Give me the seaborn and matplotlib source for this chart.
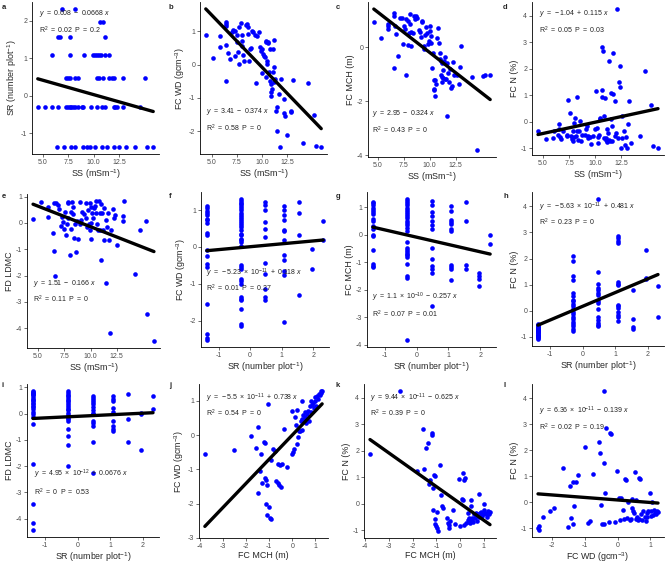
import numpy as np
import matplotlib
matplotlib.use('Agg')
import matplotlib.pyplot as plt
import seaborn as sns
from matplotlib.ticker import FormatStrFormatter

# ---- data ----
# SR takes a few standardised levels
sr_levels = [-1.37, -0.29, 0.47, 1.07, 1.55, 1.95, 2.31]

# a: SS for each SR level
a_ss_by_sr = [
    [6.41, 7.08, 7.79, 8.21, 8.91, 9.39, 9.62, 10.10, 10.83, 11.31, 11.96, 12.44, 13.14, 14.04, 15.22, 15.83],
    [4.52, 5.22, 5.93, 6.51, 7.31, 7.47, 7.63, 7.79, 7.95, 8.21, 8.43, 8.83, 8.97, 9.71, 10.35, 10.83, 11.09,
     11.96, 12.12, 12.28, 12.85, 14.52],
    [7.31, 7.47, 7.63, 8.21, 8.43, 10.35, 10.51, 10.93, 11.47, 11.79, 11.96, 12.85, 15.0],
    [5.93, 7.72, 9.07, 9.94, 10.10, 10.35, 10.51, 10.67, 11.09, 11.47],
    [6.51, 6.67, 7.63, 11.15],
    [10.58, 10.90],
    [6.86, 8.14],
]

# b: (SS, FC WD)
b_pts = [(4.42, 0.90), (5.16, 0.20), (5.87, 0.85), (5.87, 0.54), (6.39, 0.60), (6.39, -0.50), (6.46, 1.29),
         (6.46, 1.22), (6.46, 1.17), (6.62, 0.34), (6.78, 0.17), (7.0, 0.97), (7.1, 1.04), (7.27, 0.27),
         (7.33, 1.02), (7.49, 0.89), (7.52, 0.67), (7.59, 0.37), (7.69, 0.02), (7.75, 1.12), (7.91, 1.24),
         (7.98, 0.89), (8.01, 0.72), (8.01, 0.57), (8.14, 0.30), (8.24, 0.10), (8.40, 1.19), (8.46, 1.21),
         (8.56, 1.12), (8.56, 0.92), (8.72, 0.12), (8.79, 0.47), (8.88, 0.49), (8.98, 1.02), (9.11, 0.97),
         (9.30, 0.90), (9.37, -0.56), (9.53, 0.87), (9.69, 0.97), (9.79, 0.52), (9.85, 0.42), (9.95, 0.47),
         (10.0, -0.25), (10.08, 0.32), (10.18, 0.27), (10.25, 0.22), (10.34, 0.67), (10.34, -0.38),
         (10.40, 0.72), (10.44, 0.12), (10.5, 0.02), (10.57, 0.65), (10.60, 0.69), (10.66, -0.23),
         (10.73, 0.47), (10.76, -0.48), (10.83, -0.58), (10.83, -0.83), (10.92, -0.93), (10.99, -0.73),
         (11.05, 0.47), (11.05, -0.23), (11.15, 0.74), (11.15, -0.53), (11.21, -0.08), (11.25, -0.43),
         (11.37, -1.38), (11.47, -1.28), (11.47, -2.01), (11.63, -0.88), (11.8, -2.48), (11.89, -0.43),
         (12.12, -1.03), (12.18, -1.45), (12.22, -1.53), (12.44, -2.11), (12.86, -1.38), (12.86, -1.43),
         (13.03, -0.46), (14.06, -2.35), (14.55, -0.56), (15.1, -1.50), (15.29, -2.45), (15.84, -2.48)]

# c: (SS, FC MCH)
c_pts = [(4.59, 0.95), (5.32, 0.33), (6.01, 0.69), (6.01, 0.79), (6.01, 0.86), (6.52, -0.78), (6.58, 1.26),
         (6.58, 1.17), (6.68, 0.79), (6.74, 0.50), (6.90, -0.34), (7.15, 1.08), (7.31, 1.08), (7.37, 0.13),
         (7.53, 0.79), (7.59, 0.67), (7.69, -1.03), (7.69, 1.05), (7.85, 0.98), (7.91, 0.08), (8.01, 0.54),
         (8.07, 1.24), (8.10, 0.86), (8.16, 0.04), (8.23, 0.57), (8.38, 0.52), (8.48, 1.17), (8.54, 1.05),
         (8.64, 1.17), (8.80, 1.07), (8.96, 0.63), (9.05, 0.57), (9.11, 0.38), (9.21, 0.98), (9.27, 0.95),
         (9.43, 0.04), (9.49, -0.05), (9.59, 0.44), (9.68, 0.76), (9.75, 0.54), (9.84, 0.13), (9.91, 0.23),
         (10.0, 0.61), (10.06, 0.79), (10.13, 0.16), (10.16, 0.42), (10.22, -0.78), (10.28, -0.21),
         (10.38, -1.20), (10.44, -1.54), (10.44, -1.60), (10.54, -1.79), (10.54, -1.20), (10.60, -1.35),
         (10.70, 0.35), (10.76, 0.73), (10.85, 0.16), (10.95, -0.21), (11.01, -0.44), (11.08, -0.50),
         (11.11, -1.03), (11.17, -0.59), (11.17, -1.29), (11.23, -1.12), (11.30, -1.15), (11.33, -0.84),
         (11.39, -0.50), (11.46, -0.37), (11.46, -1.19), (11.55, -1.16), (11.65, -2.55), (11.71, -0.59),
         (11.77, -0.97), (11.87, -1.29), (11.93, -0.82), (12.06, -1.50), (12.18, -1.45), (12.25, -0.55),
         (12.34, -1.03), (12.60, -1.03), (12.82, -1.35), (12.91, -0.72), (13.04, 0.04), (14.08, -1.10),
         (14.59, -3.81), (15.20, -1.07), (15.35, -1.03), (15.85, -1.01)]

# d: (SS, FC N)
d_pts = [(4.53, -0.36), (5.28, -0.64), (6.01, -0.61), (6.08, -0.33), (6.42, -0.51), (6.55, -0.08),
         (6.58, -0.29), (6.65, -0.59), (6.74, -0.64), (6.96, -0.36), (7.28, -0.55), (7.34, -0.48),
         (7.44, 0.82), (7.60, 0.34), (7.66, -0.55), (7.75, -0.64), (7.85, -0.71), (7.91, -0.33),
         (7.97, -0.04), (7.97, -0.59), (8.07, 0.15), (8.16, -0.55), (8.23, 0.92), (8.29, -0.33),
         (8.39, -0.68), (8.45, -0.36), (8.54, 0.03), (8.61, -0.74), (8.70, -0.48), (9.02, -0.51),
         (9.11, -0.29), (9.24, -0.17), (9.27, -0.61), (9.34, -0.55), (9.49, -0.59), (9.59, -0.84),
         (9.81, -0.55), (9.97, -0.29), (10.03, 1.17), (10.13, -0.23), (10.22, -0.57), (10.28, -0.80),
         (10.38, -0.51), (10.44, 0.13), (10.5, 0.11), (10.6, 2.83), (10.66, 1.20), (10.69, 0.92),
         (10.76, 2.68), (10.82, 0.22), (10.85, -0.61), (10.92, 0.88), (11.01, -0.61), (11.07, -0.68),
         (11.14, -0.78), (11.17, -0.29), (11.23, -0.42), (11.30, -0.68), (11.33, 2.29), (11.39, -0.71),
         (11.49, 1.07), (11.55, 0.09), (11.61, -0.71), (11.65, -0.17), (11.71, 1.05), (11.71, 2.60),
         (11.87, 0.79), (11.93, -0.55), (12.03, -0.42), (12.12, 4.25), (12.18, -0.61), (12.28, 1.49),
         (12.34, 1.32), (12.41, 2.09), (12.44, -0.97), (12.56, 0.22), (12.60, -0.61), (12.72, -0.36),
         (12.82, -0.87), (12.97, -0.59), (13.07, -0.99), (13.13, -0.10), (13.23, 0.79), (13.39, -0.80),
         (14.30, -0.55), (14.78, 1.91), (15.35, 0.64), (15.51, -0.90), (16.0, -0.99)]

# e: (SS, FD LDMC)
e_pts = [(4.53, 0.13), (5.28, 0.78), (6.0, 0.23), (6.0, 0.59), (6.47, -0.38), (6.54, -1.07), (6.57, 0.76),
         (6.72, 0.74), (6.63, -2.0), (6.94, 0.67), (7.04, 0.51), (7.19, -0.11), (7.32, 0.23), (7.35, 0.04),
         (7.51, -0.22), (7.57, 0.42), (7.66, -0.47), (7.73, -0.06), (7.82, 0.74), (7.88, 0.78), (7.88, 0.17),
         (8.04, -1.21), (8.10, -0.24), (8.13, 0.42), (8.20, 0.78), (8.29, 0.59), (8.35, 0.32), (8.45, -0.57),
         (8.51, -0.03), (8.61, -1.11), (8.67, 0.08), (8.83, -0.62), (8.98, 0.78), (9.04, -0.06), (9.14, 0.10),
         (9.23, 0.42), (9.36, 0.32), (9.55, 0.76), (9.61, 0.19), (9.67, -0.15), (9.76, 0.48), (9.86, -0.06),
         (9.92, 0.74), (9.99, -0.28), (10.02, 0.61), (10.08, 0.01), (10.08, -0.62), (10.17, 0.36),
         (10.24, 0.19), (10.30, 0.57), (10.39, 0.65), (10.49, 0.83), (10.55, 0.38), (10.62, -0.06),
         (10.71, -0.28), (10.77, 0.83), (10.87, 0.36), (10.93, -0.28), (10.96, -1.40), (11.02, 0.70),
         (11.08, 0.36), (11.18, -0.28), (11.24, -0.66), (11.33, 0.57), (11.43, 0.10), (11.49, -2.28),
         (11.55, -0.15), (11.65, 0.38), (11.74, -0.66), (11.87, -4.19), (11.96, -0.28), (12.11, 0.51),
         (12.27, 0.17), (12.37, 0.29), (12.52, -0.83), (13.05, 0.06), (13.12, 0.27), (13.15, 0.83),
         (14.22, -1.93), (14.69, -0.28), (15.25, 0.06), (15.41, -3.46), (16.04, -4.48)]

# f-i: y values for each SR level
f_wd_by_sr = [
    [1.12, 1.05, 0.98, 0.93, 0.86, 0.77, 0.73, 0.65, 0.38, 0.32, -0.09, -0.25, -0.45, -0.55, -1.55, -2.36, -2.47, -2.52],
    [1.30, 1.25, 1.20, 1.16, 1.11, 1.06, 1.00, 0.93, 0.86, 0.82, 0.75, 0.70, 0.64, 0.59, 0.53, 0.45, 0.36, 0.32,
     0.23, 0.18, 0.14, 0.02, -0.50, -0.55, -0.59, -0.86, -0.91, -1.00, -1.36, -1.41, -1.45, -1.68, -2.09, -2.14],
    [1.23, 1.14, 1.00, 0.68, 0.50, 0.27, -0.44, -0.73, -1.14, -1.36, -1.45],
    [1.12, 1.00, 0.86, 0.73, 0.47, 0.43, 0.18, -0.23, -0.36, -0.64, -0.77, -2.02],
    [1.22, 0.91, 0.32, -1.29],
    [-0.05, -0.59],
    [0.71, 0.18],
]
g_mch_by_sr = [
    [1.19, 1.13, 1.06, 0.98, 0.90, 0.81, 0.75, 0.56, 0.50, 0.31, 0.19, 0.0, -0.04, -0.56, -1.06, -1.13, -1.19],
    [1.29, 1.23, 1.15, 1.06, 0.98, 0.90, 0.81, 0.75, 0.66, 0.59, 0.50, 0.41, 0.34, 0.25, 0.13, -0.25, -0.50,
     -0.56, -0.63, -0.69, -0.75, -0.81, -1.06, -1.50, -1.56, -3.82],
    [1.23, 1.06, 0.81, 0.69, 0.50, 0.35, 0.19, -0.48, -0.88, -1.15, -1.25, -1.41, -2.60],
    [1.03, 0.85, 0.53, 0.46, 0.40, 0.19, 0.13, -1.10, -1.19, -1.25, -1.65],
    [1.19, 0.50, -1.10, -1.25],
    [-1.41, -1.50, -1.60, -1.88],
    [0.0, -0.35],
]
h_n_by_sr = [
    [-0.50, -0.53, -0.55, -0.57, -0.60, -0.62, -0.65, -0.68, -0.70, -0.72, -0.75, -0.78, -0.80, -0.82,
     -0.85, -0.88, -0.92, -0.95, -0.98, -1.00, -1.04, -1.08],
    [2.11, 1.91, 1.34, 1.18, 0.70, 0.55, 0.42, 0.36, 0.27, 0.17, 0.08, -0.03, -0.13, -0.22, -0.32, -0.41,
     -0.50, -0.60, -0.69, -0.76],
    [4.28, 1.50, 1.04, 0.89, 0.80, 0.70, 0.61, 0.36, 0.29, 0.08, -0.25, -0.34, -0.45, -0.54, -0.60],
    [2.87, 2.78, 2.68, 2.61, 1.12, 1.03, 0.97, 0.23, 0.17, 0.10, -0.03, -0.15, -0.25, -0.38],
    [0.80, -0.31, -0.62, -0.70],
    [2.31, 1.25, 1.21],
    [0.96, -0.25],
]
i_ldmc_by_sr = [
    [0.86, 0.83, 0.80, 0.76, 0.73, 0.69, 0.62, 0.57, 0.52, 0.48, 0.42, 0.36, 0.29, 0.24, 0.19, 0.06, -0.03,
     -0.13, -0.41, -1.92, -3.44, -4.16, -4.43],
    [0.84, 0.77, 0.71, 0.65, 0.58, 0.52, 0.46, 0.39, 0.33, 0.25, 0.19, 0.13, 0.04, -0.06, -0.15, -0.22, -0.28,
     -0.59, -0.85, -1.20, -1.99],
    [0.67, 0.61, 0.52, 0.44, 0.35, 0.25, 0.13, 0.04, -0.03, -0.30, -0.37, -0.47, -1.10, -2.27],
    [0.65, 0.57, 0.46, 0.23, 0.06, -0.28, -0.47, -0.59, -0.66],
    [0.73, -0.19, -1.08],
    [0.04, 0.0, -1.39],
    [0.65, 0.16],
]

# j: (FC MCH, FC WD)
j_pts = [(-3.77, -0.54), (-2.5, -0.43), (-1.77, -0.03), (-1.56, -0.37), (-1.49, 0.23), (-1.46, -1.68),
         (-1.41, -1.04), (-1.34, -0.56), (-1.31, -1.40), (-1.2, -0.2), (-1.17, -0.24), (-1.17, -1.25),
         (-1.14, -1.31), (-1.13, -2.0), (-1.1, -1.47), (-1.07, -2.34), (-1.03, 0.9), (-1.0, -2.1),
         (-0.98, -2.43), (-0.93, -2.46), (-0.93, -0.73), (-0.81, -0.41), (-0.74, -0.46), (-0.7, -1.35),
         (-0.63, -0.85), (-0.6, -1.40), (-0.57, -1.47), (-0.53, -0.88), (-0.49, -1.52), (-0.46, -0.85),
         (-0.34, 0.18), (-0.24, -0.92), (-0.03, -0.54), (0.0, 0.71), (0.04, -0.49), (0.09, -0.41),
         (0.14, 0.52), (0.16, 0.28), (0.19, 0.74), (0.21, -0.25), (0.26, -0.06), (0.3, 0.13), (0.33, 0.12),
         (0.37, 0.42), (0.4, 1.0), (0.43, 0.16), (0.44, 0.47), (0.47, 0.57), (0.51, 0.4), (0.54, 0.66),
         (0.57, 0.52), (0.61, 0.36), (0.64, 0.62), (0.69, 0.71), (0.71, 0.42), (0.76, 0.84), (0.79, 1.0),
         (0.83, 0.67), (0.86, 0.87), (0.9, 0.93), (0.93, 0.79), (0.97, 1.1), (1.0, 0.98), (1.04, 0.84),
         (1.07, 1.13), (1.11, 1.06), (1.14, 1.19), (1.19, 1.17), (1.23, 1.29), (1.26, 1.22), (1.29, 1.29)]

# k: (FC MCH, FC N)
k_pts = [(-3.80, 1.89), (-2.53, 4.26), (-1.8, 1.23), (-1.56, 2.83), (-1.52, 1.33), (-1.45, 2.10),
         (-1.35, 2.29), (-1.31, 0.75), (-1.27, 0.88), (-1.2, 2.66), (-1.17, 2.6), (-1.15, 0.6), (-1.13, -0.25),
         (-1.1, 1.08), (-1.08, -0.56), (-1.06, 1.04), (-1.04, -0.75), (-1.01, -0.84), (-0.99, -0.31),
         (-0.97, -0.93), (-0.94, -1.03), (-0.83, 1.48), (-0.79, 0.33), (-0.76, -0.09), (-0.72, -0.15),
         (-0.55, -0.55), (-0.51, -0.71), (-0.48, -0.8), (-0.46, -0.93), (-0.41, -0.65), (-0.32, -0.25),
         (-0.21, -0.75), (-0.04, 0.95), (0.0, -0.84), (0.07, 0.19), (0.11, 0.16), (0.14, 1.16), (0.17, 0.88),
         (0.18, -0.8), (0.21, 0.98), (0.25, -0.71), (0.32, -0.63), (0.35, -0.34), (0.37, -0.53), (0.39, -0.68),
         (0.41, -0.71), (0.44, 0.13), (0.46, -0.09), (0.48, -0.63), (0.52, -0.53), (0.55, -0.68), (0.58, -0.4),
         (0.62, -0.55), (0.65, -0.34), (0.69, -0.46), (0.72, -0.65), (0.76, -0.4), (0.79, -0.5), (0.80, 0.38),
         (0.83, -0.34), (0.87, -0.44), (0.9, -0.31), (0.93, -0.46), (0.97, -0.38), (0.99, 0.0), (1.01, -0.25),
         (1.06, -0.34), (1.1, -0.4), (1.13, -0.5), (1.17, -0.28), (1.22, -0.38), (1.26, -0.3)]

# l: (FC WD, FC N)
l_pts = [(-2.44, -0.97), (-2.42, -1.06), (-2.40, -0.9), (-2.29, -0.55), (-2.08, -0.33), (-1.96, -0.23),
         (-1.66, 1.33), (-1.51, -0.94), (-1.46, 0.63), (-1.43, -0.59), (-1.38, 0.77), (-1.36, -0.81),
         (-1.34, -0.13), (-1.26, 0.79), (-1.21, 1.05), (-1.01, 2.12), (-0.91, -0.78), (-0.86, -0.72),
         (-0.74, 1.09), (-0.57, 2.31), (-0.53, 1.91), (-0.5, -0.08), (-0.48, -0.83), (-0.43, -0.81),
         (-0.42, 1.5), (-0.40, 0.35), (-0.42, 4.29), (-0.35, 2.87), (-0.25, -0.74), (-0.23, 2.68),
         (-0.2, 2.62), (-0.08, -0.74), (-0.03, 1.21), (0.03, 0.19), (0.08, -0.68), (0.12, 0.19), (0.17, -0.27),
         (0.2, -0.65), (0.23, 0.92), (0.27, 0.86), (0.3, -0.59), (0.33, 0.03), (0.37, -0.68), (0.4, -0.64),
         (0.43, -0.23), (0.45, 0.13), (0.47, -0.33), (0.5, -0.42), (0.52, 1.18), (0.55, -0.64), (0.58, 0.09),
         (0.6, -0.55), (0.62, -0.68), (0.65, -0.62), (0.67, 0.95), (0.7, 0.9), (0.72, -0.46), (0.76, -0.68),
         (0.79, -0.33), (0.83, -0.55), (0.86, -0.72), (0.89, -0.42), (0.91, -0.55), (0.94, -0.33), (0.99, 0.35),
         (1.01, -0.51), (1.04, -0.33), (1.06, 0.03), (1.09, -0.49), (1.11, -0.29), (1.14, -0.4), (1.18, -0.46),
         (1.21, -0.33), (1.24, -0.38)]


def by_level(groups):
    xs = [lv for lv, g in zip(sr_levels, groups) for _ in g]
    ys = [v for g in groups for v in g]
    return np.array(xs), np.array(ys)


def pairs(pts):
    arr = np.array(pts)
    return arr[:, 0], arr[:, 1]


def eq_lab(s):
    # plotmath-like label: explicit spaces between terms
    return '$' + s.replace(' ', r'\ ') + '$'


a_sr, a_ss = by_level(a_ss_by_sr)

# ---- style ----
sns.set_theme(style='ticks')
plt.rcParams['font.family'] = ['Liberation Sans', 'DejaVu Sans']
plt.rcParams['mathtext.fontset'] = 'custom'
plt.rcParams['mathtext.rm'] = 'Liberation Sans'
plt.rcParams['mathtext.it'] = 'Liberation Sans:italic'
plt.rcParams['axes.unicode_minus'] = False

SS = 'SS (mSm$^{-1}$)'
SR = 'SR (number plot$^{-1}$)'
WD = 'FC WD (gcm$^{-3}$)'
MCH = 'FC MCH (m)'
FN = 'FC N (%)'
LDMC = 'FD LDMC'

ss_ticks = [5, 7.5, 10, 12.5]
sr_ticks = [-1, 0, 1, 2]

# label, x, y, xlabel, ylabel, xticks, yticks, eq, r2, (text x, eq y, r2 y), (l, t, r, b) in px
panels = [
    ('a', a_ss, a_sr, SS, SR, ss_ticks, [-1, 0, 1, 2],
     'y = 0.608 - 0.0668 x', r'\mathrm{R}^2 = 0.02  \mathrm{P} = 0.2', (0.052, 0.926, 0.816), (32, 2, 159, 154)),
    ('b', *pairs(b_pts), SS, WD, ss_ticks, [-2, -1, 0, 1],
     'y = 3.41 - 0.374 x', r'\mathrm{R}^2 = 0.58  \mathrm{P} = 0', (0.045, 0.28, 0.171), (200, 2, 327, 154)),
    ('c', *pairs(c_pts), SS, MCH, ss_ticks, [-4, -2, 0],
     'y = 2.95 - 0.324 x', r'\mathrm{R}^2 = 0.43  \mathrm{P} = 0', (0.031, 0.28, 0.173), (368, 2, 496, 157)),
    ('d', *pairs(d_pts), SS, FN, ss_ticks, [-1, 0, 1, 2, 3, 4],
     'y = -1.04 + 0.115 x', r'\mathrm{R}^2 = 0.05  \mathrm{P} = 0.03', (0.05, 0.926, 0.817), (532, 2, 664, 155)),
    ('e', *pairs(e_pts), SS, LDMC, ss_ticks, [-4, -3, -2, -1, 0, 1],
     'y = 1.51 - 0.166 x', r'\mathrm{R}^2 = 0.11  \mathrm{P} = 0', (0.045, 0.422, 0.318), (27, 194, 160, 348)),
    ('f', *by_level(f_wd_by_sr), SR, WD, sr_ticks, [-2, -1, 0, 1],
     r'y = -5.23 \times 10^{-11} + 0.118 x', r'\mathrm{R}^2 = 0.01  \mathrm{P} = 0.27', (0.037, 0.476, 0.38), (201, 192, 329, 347)),
    ('g', *by_level(g_mch_by_sr), SR, MCH, sr_ticks, [-4, -3, -2, -1, 0, 1],
     r'y = 1.1 \times 10^{-10} - 0.257 x', r'\mathrm{R}^2 = 0.07  \mathrm{P} = 0.01', (0.037, 0.322, 0.208), (367, 192, 496, 347)),
    ('h', *by_level(h_n_by_sr), SR, FN, sr_ticks, [-1, 0, 1, 2, 3, 4],
     r'y = -5.63 \times 10^{-11} + 0.481 x', r'\mathrm{R}^2 = 0.23  \mathrm{P} = 0', (0.05, 0.90, 0.803), (532, 192, 664, 346)),
    ('i', *by_level(i_ldmc_by_sr), SR, LDMC, sr_ticks, [-4, -3, -2, -1, 0, 1],
     r'y = 4.95 \times 10^{-12} + 0.0676 x', r'\mathrm{R}^2 = 0  \mathrm{P} = 0.53', (0.05, 0.408, 0.293), (27, 384, 159, 537)),
    ('j', *pairs(j_pts), MCH, WD, [-4, -3, -2, -1, 0, 1], [-3, -2, -1, 0, 1],
     r'y = -5.5 \times 10^{-11} + 0.738 x', r'\mathrm{R}^2 = 0.54  \mathrm{P} = 0', (0.052, 0.905, 0.811), (199, 384, 328, 538)),
    ('k', *pairs(k_pts), MCH, FN, [-4, -3, -2, -1, 0, 1], [-1, 0, 1, 2, 3, 4],
     r'y = 9.44 \times 10^{-11} - 0.625 x', r'\mathrm{R}^2 = 0.39  \mathrm{P} = 0', (0.043, 0.905, 0.811), (364, 384, 496, 538)),
    ('l', *pairs(l_pts), WD, FN, [-2, -1, 0, 1], [-1, 0, 1, 2, 3, 4],
     r'y = 6.36 \times 10^{-11} - 0.139 x', r'\mathrm{R}^2 = 0.02  \mathrm{P} = 0.19', (0.05, 0.818, 0.716), (532, 384, 664, 537)),
]

W, H = 667, 567
fig = plt.figure(figsize=(W / 100, H / 100), dpi=100)
fig.patch.set_facecolor('white')

for lab, x, y, xl, yl, xt, yt, eq, r2, tpos, (l, t, r, b) in panels:
    ax = fig.add_axes([l / W, 1 - b / H, (r - l) / W, (b - t) / H])
    sns.regplot(x=x, y=y, ax=ax, ci=None,
                scatter_kws=dict(s=11, color='#0000ff', alpha=1, linewidths=0),
                line_kws=dict(color='black', lw=2.4))
    ax.set_xticks(xt)
    ax.set_yticks(yt)
    if xl == SS:
        ax.xaxis.set_major_formatter(FormatStrFormatter('%.1f'))
    ax.set_xlabel(xl, fontsize=6.4, labelpad=1)
    ax.set_ylabel(yl, fontsize=6.4, labelpad=1.5)
    ax.tick_params(labelsize=5, length=2, width=0.5, color='#333333', labelcolor='#4d4d4d', pad=1.5)
    for side in ['top', 'right']:
        ax.spines[side].set_visible(False)
    for side in ['left', 'bottom']:
        ax.spines[side].set_color('black')
        ax.spines[side].set_linewidth(0.6)
    ax.set_facecolor('white')
    tx, ey, ry = tpos
    ax.text(tx, ey, eq_lab(eq), transform=ax.transAxes, fontsize=5.0, va='center', ha='left', color='#222222')
    ax.text(tx, ry, eq_lab(r2), transform=ax.transAxes, fontsize=5.0, va='center', ha='left', color='#222222')
    col = 'abcdefghijkl'.index(lab)
    fig.text((2 + 167 * (col % 4)) / W, 1 - (4 + 189 * (col // 4)) / H, lab,
             fontsize=5.5, fontweight='bold', va='top', ha='left')

fig.savefig('out.png', dpi=100, facecolor='white')
